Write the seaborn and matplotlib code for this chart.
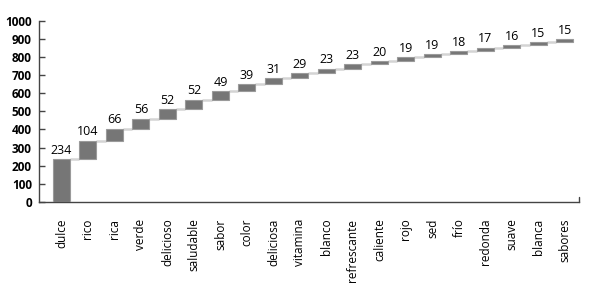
import matplotlib
matplotlib.use("Agg")
import matplotlib.pyplot as plt
import seaborn as sns
import numpy as np
import pandas as pd

categories = ["dulce", "rico", "rica", "verde", "delicioso", "saludable", "sabor", "color",
              "deliciosa", "vitamina", "blanco", "refrescante", "caliente", "rojo", "sed",
              "frío", "redonda", "suave", "blanca", "sabores"]
values = [234, 104, 66, 56, 52, 52, 49, 39, 31, 29, 23, 23, 20, 19, 19, 18, 17, 16, 15, 15]
y_ticks = [0, 100, 200, 300, 400, 500, 600, 700, 800, 900, 1000]

sns.set_theme(style="white")
plt.rcParams['font.family'] = ['Open Sans', 'DejaVu Sans']

cum = np.cumsum(values)
bottoms = cum - np.array(values)
df = pd.DataFrame({"cat": categories, "val": values, "bottom": bottoms})

fig = plt.figure(figsize=(5.89, 2.86), dpi=100)
ax = fig.add_axes([0.066, 0.294, 0.917, 0.634])

width = 0.64
sns.barplot(data=df, x="cat", y="val", bottom=df["bottom"].to_numpy(), color="#767676",
            saturation=1, width=width, ax=ax, zorder=3, edgecolor="#9a9a9a", linewidth=0.8)

# connectors
for i in range(len(values) - 1):
    ax.plot([i + width / 2, i + 1 - width / 2], [cum[i], cum[i]], color="#d4d4d4", lw=1.8,
            zorder=2, solid_capstyle="butt")

for i, v in enumerate(values):
    ax.text(i, cum[i] + 12, str(v), ha="center", va="bottom", fontsize=9, color="#000000")

ax.set_xlim(-0.85, 19.53)
ax.set_ylim(0, 1000)
ax.set_yticks(y_ticks)
ax.set_yticklabels([str(t) for t in y_ticks], fontsize=8.5, fontweight="bold", color="#000000")
ax.set_xticks(range(len(categories)))
ax.set_xticklabels(categories, rotation=90, fontsize=8.5, color="#000000")
ax.set_xlabel("")
ax.set_ylabel("")
for s in ["top", "right"]:
    ax.spines[s].set_visible(False)
for s in ["left", "bottom"]:
    ax.spines[s].set_color("#444444")
    ax.spines[s].set_linewidth(1.0)
ax.tick_params(axis="y", left=True, direction="in", length=4, width=1, color="#444444", pad=5)
ax.tick_params(axis="x", bottom=False, pad=6)
ax.plot([1, 1], [0, 0.025], transform=ax.transAxes, color="#444444", lw=1, clip_on=False)

fig.savefig("out.png", dpi=100)
